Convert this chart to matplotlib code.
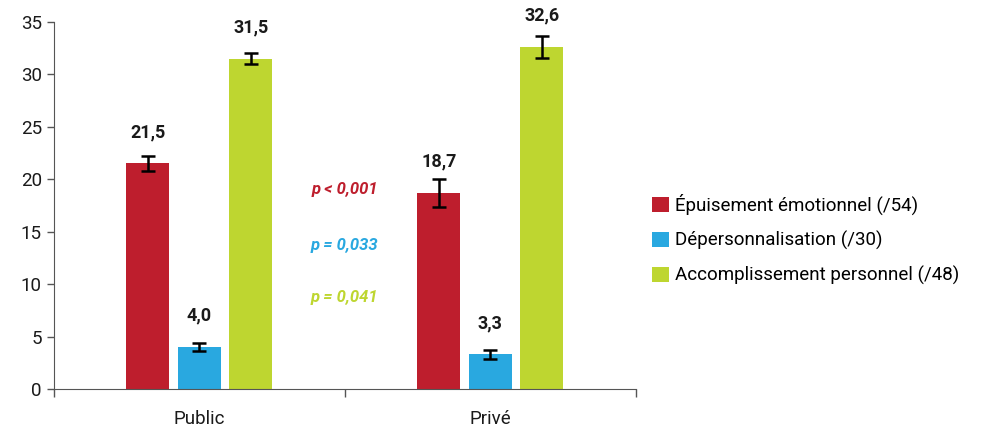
import numpy as np
import matplotlib.pyplot as plt

groups = ["Public", "Privé"]
series = ["Épuisement émotionnel (/54)", "Dépersonnalisation (/30)", "Accomplissement personnel (/48)"]
values = [[21.5, 18.7], [4.0, 3.3], [31.5, 32.6]]
errors = [[0.75, 1.35], [0.35, 0.4], [0.55, 1.05]]
labels = [["21,5", "18,7"], ["4,0", "3,3"], ["31,5", "32,6"]]
pvals = ["p < 0,001", "p = 0,033", "p = 0,041"]
pval_y = [19.0, 13.7, 8.7]
colors = ["#BE1E2D", "#29A8E0", "#BED630"]

plt.rcParams['font.family'] = ['Roboto', 'DejaVu Sans']

fig = plt.figure(figsize=(9.92, 4.28), dpi=100)
ax = fig.add_axes([0.054, 0.091, 0.587, 0.858])

x = np.arange(len(groups))
width = 0.148
step = 0.177
for i in range(len(series)):
    xs = x + (i - 1) * step
    ax.bar(xs, values[i], width, color=colors[i], label=series[i], zorder=2)
    ax.errorbar(xs, values[i], yerr=errors[i], fmt='none', ecolor='black',
                elinewidth=1.8, capsize=5, capthick=1.8, zorder=3)
    for j in range(len(groups)):
        ax.text(xs[j], values[i][j] + 3.0, labels[i][j], ha='center', va='center',
                fontsize=13, fontweight='bold', color='#1a1a1a')

for i in range(len(pvals)):
    ax.text(0.5, pval_y[i], pvals[i], ha='center', va='center', fontsize=12,
            fontweight='bold', style='italic', color=colors[i])

ax.set_xlim(-0.5, 1.5)
ax.set_ylim(0, 35)
ax.set_yticks(np.arange(0, 36, 5))
ax.set_xticks(x)
ax.set_xticklabels(groups)
ax.set_xticks([-0.5, 0.5, 1.5], minor=True)
ax.tick_params(axis='x', which='major', length=0, pad=15, labelsize=13.5, colors='#1a1a1a')
ax.tick_params(axis='x', which='minor', length=6, width=1, color='#555555')
ax.tick_params(axis='y', length=5, width=1, color='#555555', labelsize=13.5, labelcolor='#1a1a1a')
for s in ['top', 'right']:
    ax.spines[s].set_visible(False)
for s in ['left', 'bottom']:
    ax.spines[s].set_color('#555555')

fig.legend(loc='center left', bbox_to_anchor=(0.64, 0.44), frameon=False,
           fontsize=13.5, handlelength=0.9, handleheight=0.9, handletextpad=0.35,
           labelspacing=0.85)

fig.savefig("out.png", dpi=100)
